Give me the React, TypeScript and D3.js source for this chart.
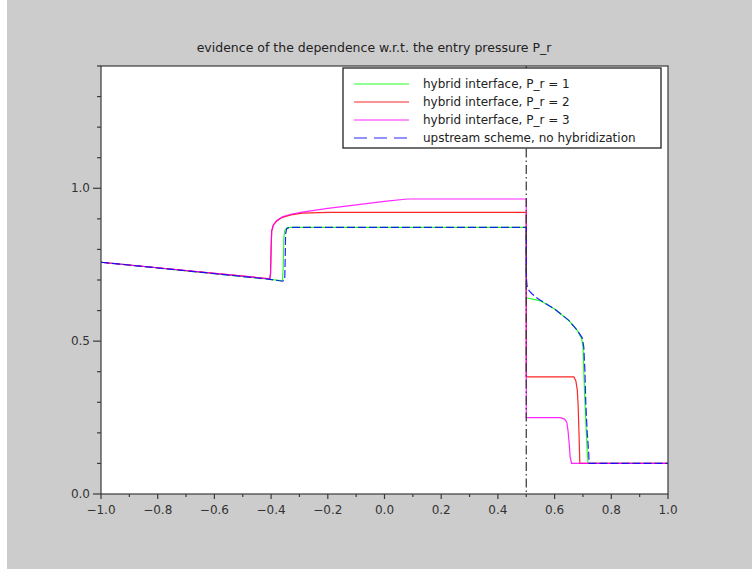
import React from 'react';
import * as d3 from 'd3';

// x/y, one pair of arrays per curve
const xP1 = [-1, -0.41, -0.36, -0.357, -0.355, -0.352, -0.345, -0.335, 0.5, 0.5, 0.55, 0.6, 0.65, 0.68, 0.695, 0.7, 0.703, 0.707, 0.712, 0.715, 0.718, 1.0];
const yP1 = [0.758, 0.703, 0.697, 0.75, 0.84, 0.862, 0.87, 0.872, 0.872, 0.642, 0.632, 0.605, 0.568, 0.535, 0.51, 0.48, 0.4, 0.3, 0.2, 0.14, 0.1, 0.1];

const xP2 = [-1, -0.405, -0.402, -0.4, -0.398, -0.392, -0.38, -0.36, -0.33, -0.29, -0.2, 0.5, 0.5, 0.668, 0.675, 0.68, 0.683, 0.686, 0.689, 1.0];
const yP2 = [0.758, 0.704, 0.72, 0.8, 0.86, 0.88, 0.893, 0.905, 0.913, 0.919, 0.921, 0.921, 0.383, 0.383, 0.37, 0.34, 0.29, 0.2, 0.1, 0.1];

const xP3 = [-1, -0.405, -0.402, -0.4, -0.398, -0.392, -0.38, -0.36, -0.33, -0.29, -0.2, -0.1, 0.0, 0.08, 0.5, 0.5, 0.62, 0.635, 0.643, 0.647, 0.652, 0.655, 0.66, 1.0];
const yP3 = [0.758, 0.704, 0.72, 0.8, 0.86, 0.88, 0.895, 0.907, 0.915, 0.922, 0.934, 0.946, 0.957, 0.965, 0.965, 0.25, 0.25, 0.245, 0.235, 0.21, 0.16, 0.12, 0.1, 0.1];

const xUp = [-1, -0.41, -0.36, -0.352, -0.35, -0.349, -0.345, -0.335, 0.5, 0.5, 0.503, 0.51, 0.52, 0.535, 0.55, 0.6, 0.65, 0.68, 0.698, 0.703, 0.707, 0.71, 0.715, 0.72, 0.722, 1.0];
const yUp = [0.758, 0.703, 0.696, 0.7, 0.78, 0.85, 0.868, 0.872, 0.872, 0.71, 0.68, 0.665, 0.655, 0.643, 0.634, 0.605, 0.568, 0.535, 0.51, 0.48, 0.4, 0.3, 0.2, 0.14, 0.1, 0.1];

const legendLabels = [
  'hybrid interface, P_r = 1',
  'hybrid interface, P_r = 2',
  'hybrid interface, P_r = 3',
  'upstream scheme, no hybridization',
];
const xTickLabels = ['-1.0', '-0.8', '-0.6', '-0.4', '-0.2', '0.0', '0.2', '0.4', '0.6', '0.8', '1.0'];
const yTickLabels = ['0.0', '0.5', '1.0'];

const W = 752, H = 569;
const left = 101, right = 668, top = 66, bottom = 494;
const font = 'DejaVu Sans, sans-serif';
const axisColor = '#3a3a3a';

export default function App() {
  const x = d3.scaleLinear().domain([-1, 1]).range([left, right]);
  const y = d3.scaleLinear().domain([0, 1.4]).range([bottom, top]);

  const path = (xs: number[], ys: number[]) =>
    d3.line<number>()
      .x(d => x(xs[d]))
      .y(d => y(ys[d]))(xs.map((_, i) => i)) || '';

  const series = [
    { xs: xP1, ys: yP1, color: '#00ff00', dash: undefined },
    { xs: xP2, ys: yP2, color: '#ff0000', dash: undefined },
    { xs: xP3, ys: yP3, color: '#ff00ff', dash: undefined },
    { xs: xUp, ys: yUp, color: '#0000ff', dash: '8,3' },
  ];

  const xMinor = d3.range(-10, 11).map(i => i / 10);
  const yMinor = d3.range(0, 15).map(i => i / 10);

  return (
    <svg width={W} height={H} style={{ position: 'absolute', left: 0, top: 0 }}>
      <rect x={0} y={0} width={W} height={H} fill="#ffffff" />
      <rect x={7} y={0} width={W - 7} height={H} fill="#cccccc" />
      <text x={374} y={52} textAnchor="middle" fontFamily={font} fontSize={12.5} fill="#222">
        evidence of the dependence w.r.t. the entry pressure P_r
      </text>

      <rect x={left} y={top} width={right - left} height={bottom - top} fill="#ffffff" />

      {/* curves */}
      {series.map((s, i) => (
        <path key={i} d={path(s.xs, s.ys)} fill="none" stroke={s.color}
          strokeWidth={1.2} strokeDasharray={s.dash} opacity={0.85} />
      ))}

      {/* dash-dot line at x = 0.5 */}
      <line x1={x(0.5)} x2={x(0.5)} y1={y(1.4)} y2={y(0)} stroke="#333"
        strokeWidth={1.2} strokeDasharray="9,3,1.5,3" />

      {/* frame */}
      <rect x={left} y={top} width={right - left} height={bottom - top} fill="none" stroke={axisColor} strokeWidth={1.2} />

      {/* y axis ticks */}
      {yMinor.map(v => {
        const major = Math.abs(v * 2 - Math.round(v * 2)) < 1e-6;
        return <line key={'y' + v} x1={left} x2={left - (major ? 8 : 4)} y1={y(v)} y2={y(v)} stroke={axisColor} strokeWidth={1.2} />;
      })}
      {yTickLabels.map(t => (
        <text key={t} x={left - 11} y={y(+t)} dy="0.35em" textAnchor="end" fontFamily={font} fontSize={12} fill="#333">{t}</text>
      ))}

      {/* x axis ticks */}
      {xMinor.map((v, i) => (
        <line key={'x' + i} x1={x(v)} x2={x(v)} y1={bottom} y2={bottom + (i % 2 === 0 ? 5 : 3)} stroke={axisColor} strokeWidth={1.2} />
      ))}
      {xTickLabels.map(t => (
        <text key={t} x={x(+t)} y={bottom + 20} textAnchor="middle" fontFamily={font} fontSize={12} fill="#333">{t.replace('-', '\u2212')}</text>
      ))}

      {/* legend */}
      <rect x={343} y={68} width={318} height={80} fill="#ffffff" stroke="#222" strokeWidth={1.3} />
      {legendLabels.map((l, i) => (
        <g key={l} transform={`translate(0, ${84 + i * 18})`}>
          <line x1={354} x2={409} y1={0} y2={0} stroke={series[i].color} strokeWidth={1.2}
            strokeDasharray={i === 3 ? '13,7' : undefined} opacity={0.85} />
          <text x={423} y={0} dy="0.35em" fontFamily={font} fontSize={12} fill="#222">{l}</text>
        </g>
      ))}
    </svg>
  );
}
